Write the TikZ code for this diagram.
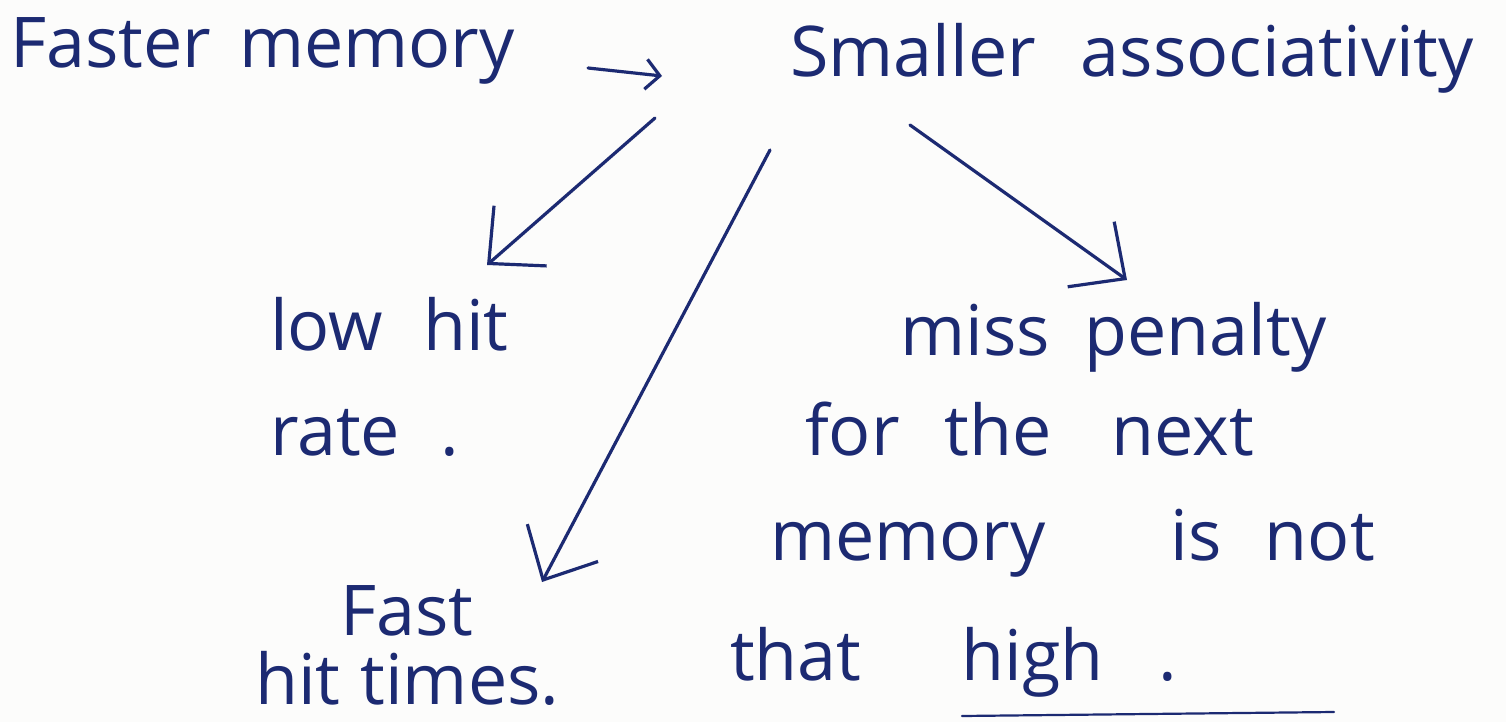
\documentclass[tikz,border=0pt]{standalone}
\usepackage{fontspec}
\setmainfont{Open Sans}
\usetikzlibrary{arrows.meta}
\definecolor{ink}{HTML}{1C2A72}
\definecolor{paper}{HTML}{FCFCFB}
\begin{document}
\begin{tikzpicture}[x=1pt,y=-1pt,
  note/.style={anchor=base west, inner sep=0pt, text=ink,
    font=\fontsize{70}{76}\selectfont},
  pen/.style={draw=ink, line width=3.2pt, line cap=round, line join=round},
  branch/.style={pen, -{Straight Barb[length=42pt,width=80pt,line width=3.2pt]}},
  lead/.style={pen, -{Straight Barb[length=14pt,width=30pt,line width=3.2pt]}}]
  \fill[paper] (0,0) rectangle (1506,722);
  \useasboundingbox (0,0) rectangle (1506,722);

  % top row
  \node[note] (faster) at (10,68) {Faster\hspace{28pt}memory};
  \node[note] (smaller) at (790,77) {Smaller\hspace{45pt}associativity};

  % left branch
  \node[note] (low) at (270,350) {low\hspace{40pt}hit};
  \node[note] (rate) at (270,455) {rate\hspace{40pt}.};
  \node[note] (fast) at (340,635) {Fast};
  \node[note] (hittimes) at (255,704) {hit\hspace{20pt}times.};

  % right branch
  \node[note] (miss) at (900,355) {miss\hspace{35pt}penalty};
  \node[note] (forthe) at (805,455) {for\hspace{45pt}the\hspace{60pt}next};
  \node[note] (memory) at (770,560) {memory\hspace{125pt}is\hspace{43pt}not};
  \node[note] (that) at (730,680) {that\hspace{100pt}high\hspace{55pt}.};

  % connectors
  \coordinate (fm) at (588,68);
  \coordinate (sa) at (662,76);
  \draw[lead] (fm) -- (sa);

  \coordinate (s1) at (655,118);
  \coordinate (e1) at (487,265);
  \coordinate (s2) at (770,150);
  \coordinate (e2) at (542,582);
  \coordinate (s3) at (910,125);
  \coordinate (e3) at (1127,280);
  \draw[branch] (s1) -- (e1);
  \draw[branch] (s2) -- (e2);
  \draw[branch] (s3) -- (e3);

  % underline below "high"
  \coordinate (u1) at (962,716);
  \coordinate (u2) at (1334,712);
  \draw[pen, line width=2.2pt] (u1) -- (u2);
\end{tikzpicture}
\end{document}
